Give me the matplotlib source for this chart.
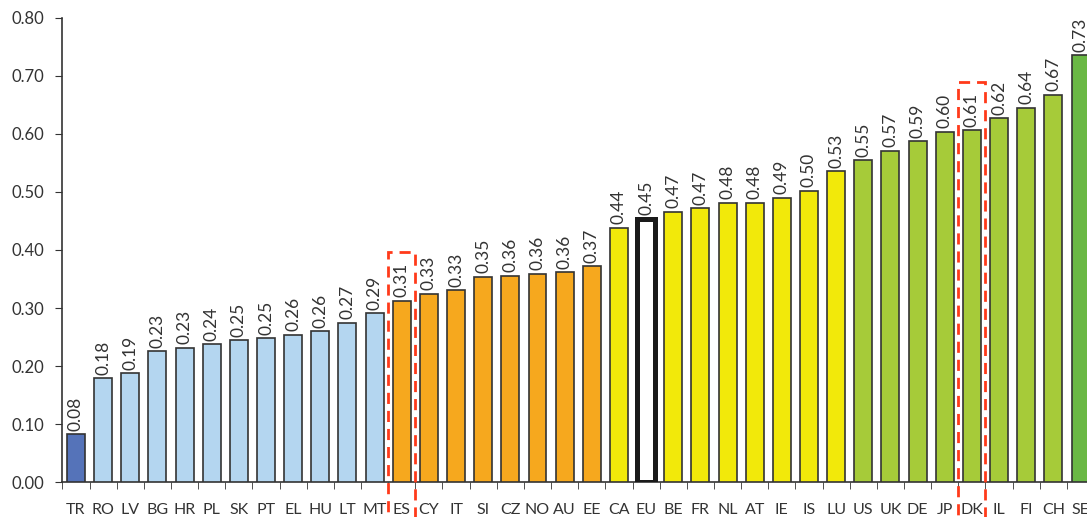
import matplotlib.pyplot as plt
from matplotlib.patches import Rectangle
import numpy as np

countries = ['TR', 'RO', 'LV', 'BG', 'HR', 'PL', 'SK', 'PT', 'EL', 'HU', 'LT', 'MT', 'ES',
             'CY', 'IT', 'SI', 'CZ', 'NO', 'AU', 'EE', 'CA', 'EU', 'BE', 'FR', 'NL', 'AT',
             'IE', 'IS', 'LU', 'US', 'UK', 'DE', 'JP', 'DK', 'IL', 'FI', 'CH', 'SE']
values = [0.083, 0.179, 0.188, 0.226, 0.232, 0.238, 0.245, 0.248, 0.254, 0.260, 0.275, 0.291, 0.313,
          0.325, 0.331, 0.354, 0.356, 0.359, 0.362, 0.372, 0.438, 0.454, 0.466, 0.472, 0.481, 0.481,
          0.490, 0.502, 0.536, 0.555, 0.571, 0.587, 0.604, 0.606, 0.627, 0.645, 0.667, 0.735]
labels = ['0.08', '0.18', '0.19', '0.23', '0.23', '0.24', '0.25', '0.25', '0.26', '0.26', '0.27',
          '0.29', '0.31', '0.33', '0.33', '0.35', '0.36', '0.36', '0.36', '0.37', '0.44', '0.45',
          '0.47', '0.47', '0.48', '0.48', '0.49', '0.50', '0.53', '0.55', '0.57', '0.59', '0.60',
          '0.61', '0.62', '0.64', '0.67', '0.73']
groups = ['dark'] + ['light'] * 11 + ['orange'] * 8 + ['yellow'] * 9 + ['lime'] * 8 + ['green']
highlighted = ['ES', 'DK']

palette = {'dark': '#5573B9', 'light': '#B4D6F0', 'orange': '#F6A81E',
           'yellow': '#F2E90A', 'lime': '#A6CB39', 'green': '#6AB845'}

plt.rcParams['font.family'] = ['Lato', 'DejaVu Sans']

fig = plt.figure(figsize=(10.87, 5.17), dpi=100)
ax = fig.add_axes([0.0574, 0.0671, 0.9426, 0.8987])

x = np.arange(len(countries))
for i, (c, v, g) in enumerate(zip(countries, values, groups)):
    if c == 'EU':
        ax.bar(i, v, width=0.66, color='white', edgecolor='#1a1a1a', linewidth=3.6, zorder=3)
    else:
        ax.bar(i, v, width=0.66, color=palette[g], edgecolor='#333333', linewidth=1.2, zorder=3)
    ax.annotate(labels[i], (i, v), xytext=(0, 2.5), textcoords='offset points',
                rotation=90, ha='center', va='bottom', fontsize=12.5, color='#333333')

# dashed red frames around highlighted countries
for c in highlighted:
    i = countries.index(c)
    top = values[i] + 0.084
    rect = Rectangle((i - 0.5, -0.07), 1.0, top + 0.07, fill=False, edgecolor='#FF3A1A',
                     linewidth=2, linestyle=(0, (4, 2.5)), clip_on=False, zorder=5)
    ax.add_patch(rect)

ax.set_xlim(-0.5, 37.24)
ax.set_ylim(0, 0.8)
ax.set_yticks(np.arange(0, 0.81, 0.1))
ax.set_yticklabels(['%.2f' % t for t in np.arange(0, 0.81, 0.1)], fontsize=12, color='#333333')
ax.set_xticks(x)
ax.set_xticklabels(countries, fontsize=11.5, color='#333333')
ax.set_xticks(np.arange(-0.5, 37.5, 1), minor=True)
ax.tick_params(axis='x', which='major', length=0, pad=15)
ax.tick_params(axis='x', which='minor', length=5, color='#333333')
ax.tick_params(axis='y', length=5, color='#333333', pad=8)

for s in ['top', 'right']:
    ax.spines[s].set_visible(False)
for s in ['left', 'bottom']:
    ax.spines[s].set_color('#333333')
    ax.spines[s].set_linewidth(1.2)

fig.savefig('out.png', dpi=100)
